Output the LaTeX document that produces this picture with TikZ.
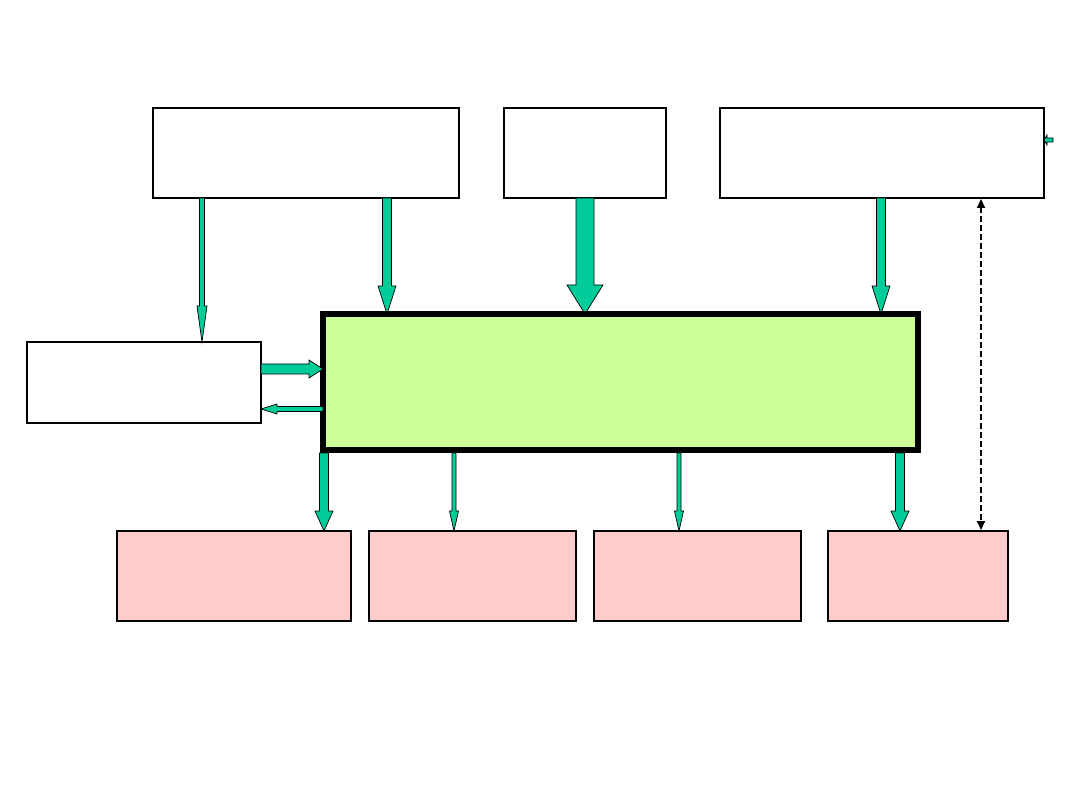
\documentclass[tikz,border=0pt]{standalone}
\usetikzlibrary{arrows.meta}
\definecolor{arrgreen}{HTML}{00CC99}
\definecolor{boxgreen}{HTML}{CCFF99}
\definecolor{boxpink}{HTML}{FFCCCC}
\tikzset{
  blk/.style={fill=arrgreen,draw=black,line width=0.7pt,line join=miter},
  plainbox/.style={draw=black,line width=1.6pt,fill=white},
  pinkbox/.style={draw=black,line width=1.6pt,fill=boxpink},
  centerbox/.style={draw=black,line width=6pt,fill=boxgreen},
  dashlink/.style={dash pattern=on 6pt off 3pt,line width=2pt,{Triangle[length=9pt,width=8pt]}-{Triangle[length=9pt,width=8pt]}}
}
% vertical down block arrow: x, y1, y2, halfshaft, halfhead, headstart
\newcommand\vdarr[6]{%
  \draw[blk] ({#1-#4},#2) -- ({#1+#4},#2) -- ({#1+#4},#6) -- ({#1+#5},#6) -- (#1,#3) -- ({#1-#5},#6) -- ({#1-#4},#6) -- cycle;}
% horizontal block arrow: y, x1 (tail), x2 (tip), halfshaft, halfhead, headstart
\newcommand\hzarr[6]{%
  \draw[blk] (#2,{#1-#4}) -- (#6,{#1-#4}) -- (#6,{#1-#5}) -- (#3,#1) -- (#6,{#1+#5}) -- (#6,{#1+#4}) -- (#2,{#1+#4}) -- cycle;}
\begin{document}
\begin{tikzpicture}[x=1pt,y=-1pt]
\useasboundingbox[fill=white] (0,0) rectangle (1080,810);
% top boxes
\draw[plainbox] (153,108) rectangle (459,198);
\draw[plainbox] (504,108) rectangle (666,198);
\draw[plainbox] (720,108) rectangle (1044,198);
% left box
\draw[plainbox] (27,342) rectangle (261,423);
% pink boxes
\draw[pinkbox] (117,531) rectangle (351,621);
\draw[pinkbox] (369,531) rectangle (576,621);
\draw[pinkbox] (594,531) rectangle (801,621);
\draw[pinkbox] (828,531) rectangle (1008,621);
% arrows from top
\vdarr{202}{198}{342}{2.5}{5}{306}
\vdarr{387}{198}{314}{4.5}{9}{286}
\vdarr{585}{198}{314}{9}{18}{285}
\vdarr{881}{198}{314}{4.5}{9}{286}
% center box
\draw[centerbox] (323,314) rectangle (918,450);
% side arrows
\hzarr{369}{261}{323}{5}{9}{309}
\hzarr{409}{323}{261}{2.5}{5}{277}
% down arrows
\vdarr{324}{453}{531}{4.5}{9}{511}
\vdarr{454}{453}{531}{2}{4.5}{511}
\vdarr{679}{453}{531}{2}{4.5}{511}
\vdarr{900}{453}{531}{4.5}{9}{511}
% dashed link
\coordinate (dtop) at (981,199);
\coordinate (dbot) at (981,530);
\draw[dashlink] (dtop) -- (dbot);
% small arrow at right of top right box
\hzarr{140}{1053}{1044}{2}{5}{1047}
\end{tikzpicture}
\end{document}
